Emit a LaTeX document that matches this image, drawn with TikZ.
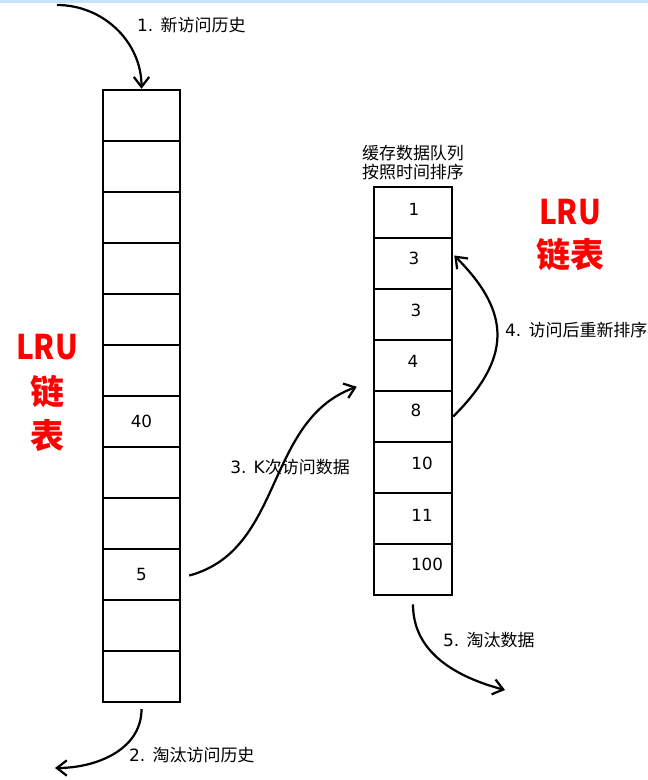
\documentclass[tikz,border=0pt]{standalone}
\usepackage{fontspec}
\usepackage{graphicx}
\setmainfont{DejaVu Sans}
\newfontfamily\cjk{Noto Sans CJK SC}
\usetikzlibrary{arrows.meta, positioning}
\definecolor{topband}{HTML}{C6E4F6}
\definecolor{lrured}{HTML}{FF0000}
\newcommand{\lru}{\scalebox{0.88}[1]{LRU}}

\begin{document}
\begin{tikzpicture}[x=0.03cm, y=-0.03cm,
    cell/.style={draw, line width=2.1pt, minimum width=2.31cm,
      minimum height=1.53cm, inner sep=0pt},
    num/.style={font=\fontsize{14.3}{16}\selectfont},
    note/.style={font=\fontsize{14.5}{16}\selectfont},
    cjknote/.style={font=\cjk\fontsize{14.5}{16}\selectfont},
    big/.style={text=lrured, align=center},
    flow/.style={line width=1.9pt,
      -{Straight Barb[length=3mm, width=4.6mm, line width=1.9pt]}}]
  \useasboundingbox (0,0) rectangle (648,780);
  \fill[white] (0,0) rectangle (648,780);
  \fill[topband] (0,0) rectangle (648,3);
  \foreach \i in {1,...,12}{%
    \node[cell] (h\i) at (141.5, 64.5+51*\i) {};}
  \node[num] (n40) at (h7) {40};
  \node[num] (n5) at (h10) {5};
  \foreach \v/\dx/\dy [count=\i] in {1/1/-3, 3/1/-5, 3/3/-4, 4/0/-4,
                                      8/3/-6, 10/9/-4, 11/9/-3, 100/14/-5}{%
    \node[cell, minimum width=2.34cm] (q\i) at (413, 161.5+51*\i) {};
    \node[num] (v\i) at ([shift={(\dx,\dy)}]q\i.center) {\v};}
  \node[cjknote, align=center, above=0.05cm of q1] (title)
    {缓存数据队列\\按照时间排序};
  \node[big, font=\cjk\bfseries\fontsize{29}{38}\selectfont] (lrul)
    at (47,393) {\lru\\链\\表};
  \node[big, font=\cjk\bfseries\fontsize{29}{37}\selectfont] (lrur)
    at (570,235) {\lru\\链表};
  \coordinate (in1) at (57,5);
  \coordinate (out2) at (55,768);
  \coordinate (out5) at (505,690);
  \draw[flow] (in1) to[out=0, in=90] (h1.north);
  \node[note, anchor=west] (l1) at (133,25) {1. {\cjk 新访问历史}};
  \draw[flow] ([yshift=-5pt]h12.south) to[out=-90, in=0] (out2);
  \node[note, anchor=west] (l2) at (125,755) {2. {\cjk 淘汰访问历史}};
  \draw[flow] ([shift={(8,1)}]h10.east) to[out=15, in=200]
    ([shift={(-16,-3)}]q5.north west);
  \node[note] (l3) at (290,467) {3. K{\cjk 次访问数据}};
  \draw[flow] (q5.east) to[out=45, in=-45, looseness=1.3]
    ([shift={(1,-8)}]q2.east);
  \node[note, anchor=west] (l4) at (501,330) {4. {\cjk 访问后重新排序}};
  \draw[flow] ([yshift=-7pt]q8.south) to[out=-90, in=165] (out5);
  \node[note, anchor=west] (l5) at (439,640) {5. {\cjk 淘汰数据}};
\end{tikzpicture}
\end{document}
